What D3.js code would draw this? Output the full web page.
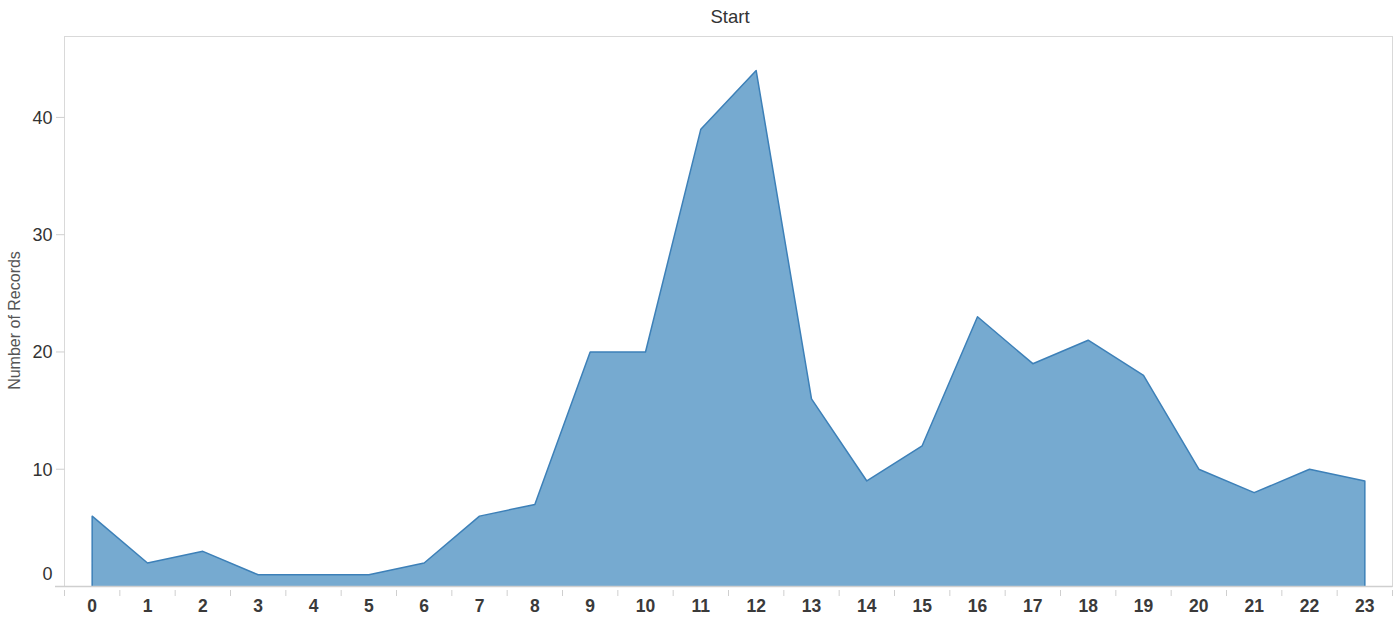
<!DOCTYPE html>
<html><head><meta charset="utf-8">
<script src="https://cdn.jsdelivr.net/npm/d3@7"></script>
<style>
body{margin:0;background:#fff;}
svg{display:block;font-family:"Helvetica Neue",Arial,"Liberation Sans",sans-serif;}
</style></head>
<body><svg id="c" width="1400" height="625"></svg>
<script>
const hours = ["0","1","2","3","4","5","6","7","8","9","10","11","12","13","14","15","16","17","18","19","20","21","22","23"];
const records = [6,2,3,1,1,1,2,6,7,20,20,39,44,16,9,12,23,19,21,18,10,8,10,9];
const yTicks = [0,10,20,30,40];
const title = "Start";
const yTitle = "Number of Records";

const svg = d3.select("#c");
const L=64.5, R=1392.5, T=36.5, B=586.5;

const x = d3.scaleBand().domain(hours).range([L, R]);
const y = d3.scaleLinear().domain([0, 46.9]).range([B, T]);

// border
svg.append("rect").attr("x",L).attr("y",T).attr("width",R-L).attr("height",B-T)
  .attr("fill","none").attr("stroke","#d9d9d9").attr("stroke-width",1);

// area
const data = hours.map((h,i)=>({h, v:records[i]}));
const cx = d => x(d.h) + x.bandwidth()/2;
svg.append("path").datum(data)
  .attr("d", d3.area().x(cx).y0(y(0)).y1(d=>y(d.v)))
  .attr("fill","#76aad0");
const pts = data.map(d=>[cx(d), y(d.v)]);
const outline = [[cx(data[0]), y(0)], ...pts, [cx(data[data.length-1]), y(0)]];
svg.append("path").attr("d", d3.line()(outline))
  .attr("fill","none").attr("stroke","#3d80b8").attr("stroke-width",1.5).attr("stroke-linejoin","round");

// y axis
const yAxis = svg.append("g");
yTicks.forEach(t=>{
  yAxis.append("line").attr("x1",56).attr("x2",L).attr("y1",y(t)).attr("y2",y(t))
    .attr("stroke","#cfcfcf");
  yAxis.append("text").attr("x",52.5).attr("y", t===0 ? y(t)-13 : y(t))
    .attr("dy","0.35em").attr("text-anchor","end")
    .attr("font-size",18).attr("fill","#333").text(t);
});
svg.append("text").attr("transform",`translate(20,${(T+B)/2+9}) rotate(-90)`)
  .attr("text-anchor","middle").attr("font-size",16).attr("fill","#555").text(yTitle);

// x axis
svg.append("line").attr("x1",55).attr("x2",R).attr("y1",B).attr("y2",B)
  .attr("stroke","#cfcfcf").attr("stroke-width",1.5);
const xb = svg.append("g");
hours.forEach((h,i)=>{
  xb.append("line").attr("x1",x(h)).attr("x2",x(h)).attr("y1",590).attr("y2",596)
    .attr("stroke","#cfcfcf");
  xb.append("text").attr("x",x(h)+x.bandwidth()/2).attr("y",606).attr("dy","0.35em")
    .attr("text-anchor","middle").attr("font-size",17.5).attr("font-weight","bold")
    .attr("fill","#3a3a3a").text(h);
});
xb.append("line").attr("x1",R).attr("x2",R).attr("y1",590).attr("y2",596).attr("stroke","#cfcfcf");

// title
svg.append("text").attr("x",(L+R)/2+1.5).attr("y",17).attr("dy","0.35em")
  .attr("text-anchor","middle").attr("font-size",18.5).attr("fill","#333").text(title);
</script></body></html>
